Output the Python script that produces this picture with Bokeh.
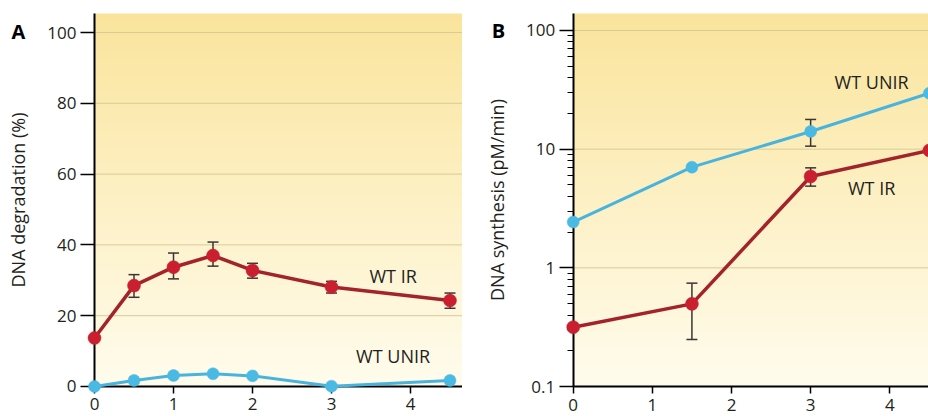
import numpy as np
from bokeh.plotting import figure
from bokeh.layouts import row
from bokeh.models import Range1d, FixedTicker, Label, CustomJSTickFormatter
from bokeh.embed import file_html
from bokeh.resources import INLINE

# ---------------- data ----------------
# Panel A: DNA degradation (%)
time_a = [0, 0.5, 1, 1.5, 2, 3, 4.5]
ir_degradation = [13.7, 28.5, 33.7, 37.0, 32.8, 28.1, 24.3]
unir_degradation = [0.0, 1.7, 3.1, 3.6, 3.0, 0.1, 1.7]
ir_err_time = [0.5, 1, 1.5, 2, 3, 4.5]
ir_err_low = [25.2, 30.4, 34.0, 30.6, 26.4, 22.1]
ir_err_high = [31.6, 37.7, 40.8, 34.8, 29.7, 26.4]
a_xticks = [0, 1, 2, 3, 4]
a_yticks = [0, 20, 40, 60, 80, 100]

# Panel B: DNA synthesis (pM/min), log scale
time_b = [0, 1.5, 3, 4.5]
unir_synthesis = [2.43, 7.05, 14.1, 29.6]
ir_synthesis = [0.316, 0.497, 5.89, 9.75]
unir_err_time = [3]
unir_err_low = [10.6]
unir_err_high = [17.8]
ir_err_time_b = [1.5, 3]
ir_err_low_b = [0.249, 4.88]
ir_err_high_b = [0.743, 6.96]
b_xticks = [0, 1, 2, 3, 4]
b_yticks = [0.1, 1, 10, 100]
b_minor = [m * 10.0 ** e for e in (-1, 0, 1) for m in range(2, 10)]

# ---------------- style ----------------
FONT = "Open Sans"
TXT = "#231f20"
RED_LINE = "#a3232b"
RED_DOT = "#c91f2e"
BLUE_LINE = "#48b4dd"
BLUE_DOT = "#4ab9e3"
ERR = "#3a3536"
GRID = "#d9cb97"
TOP = np.array([250, 228, 156], dtype=float)
BOTTOM = np.array([255, 252, 237], dtype=float)


def gradient(n=256):
    img = np.empty((n, 1), dtype=np.uint32)
    view = img.view(dtype=np.uint8).reshape((n, 1, 4))
    for i in range(n):
        t = i / (n - 1)
        c = BOTTOM + (TOP - BOTTOM) * t
        view[i, 0, 0] = int(round(c[0]))
        view[i, 0, 1] = int(round(c[1]))
        view[i, 0, 2] = int(round(c[2]))
        view[i, 0, 3] = 255
    return img


def style_axis(ax, tick_out, standoff, label_standoff=None):
    ax.axis_line_width = 2
    ax.axis_line_color = "black"
    ax.major_tick_out = tick_out
    ax.major_tick_in = 0
    ax.major_tick_line_width = 1.5
    ax.major_tick_line_color = "black"
    ax.minor_tick_in = 0
    ax.minor_tick_out = 0
    ax.major_label_standoff = standoff
    ax.major_label_text_font = FONT
    ax.major_label_text_font_size = "17px"
    ax.major_label_text_color = TXT
    ax.axis_label_text_font = FONT
    ax.axis_label_text_font_size = "18px"
    ax.axis_label_text_font_style = "normal"
    ax.axis_label_text_color = TXT
    if label_standoff is not None:
        ax.axis_label_standoff = label_standoff


def errorbars(p, xs, lo, hi):
    p.segment(x0=xs, y0=lo, x1=xs, y1=hi, line_color=ERR, line_width=1.5, level="annotation")
    p.scatter(x=xs, y=lo, marker="dash", size=11, line_color=ERR, line_width=1.5, level="annotation")
    p.scatter(x=xs, y=hi, marker="dash", size=11, line_color=ERR, line_width=1.5, level="annotation")


def series(p, xs, ys, lc, lw):
    p.line(xs, ys, line_color=lc, line_width=lw, level="annotation")


def dots(p, xs, ys, dc, size):
    p.scatter(xs, ys, size=size, fill_color=dc, line_color=dc, line_width=0.5, level="annotation")


def gridlines(p, ticks, x_end):
    n = len(ticks)
    p.segment(x0=[0] * n, y0=ticks, x1=[x_end] * n, y1=ticks,
              line_color=GRID, line_width=1, level="underlay")


lbl_kw = dict(text_font=FONT, text_font_size="18px", text_color=TXT,
              text_align="center", text_baseline="middle")
big_kw = dict(text_font=FONT, text_font_size="20px", text_font_style="bold",
              text_color="black", text_align="center", text_baseline="middle")

no_border = dict(min_border_left=0, min_border_right=0, min_border_top=0, min_border_bottom=0)

# ---------------- panel A ----------------
XA0, XA1 = -1.1899, 4.6582          # full canvas in data units
YA0, YA1 = -8.475, 109.04
XA_END, YA_END = 4.6582, 105.37     # extent of the shaded plot area
pa = figure(width=462, height=416, x_range=Range1d(XA0, XA1), y_range=Range1d(YA0, YA1),
            output_backend="svg", toolbar_location=None, title=None, **no_border)
pa.background_fill_color = "white"
pa.border_fill_color = "white"
pa.outline_line_color = None
pa.xgrid.visible = False
pa.ygrid.visible = False
pa.image_rgba(image=[gradient()], x=0, y=0, dw=XA_END, dh=YA_END, level="image")
gridlines(pa, a_yticks[1:], XA_END)

xa = pa.xaxis[0]
xa.fixed_location = 0
xa.bounds = (0, XA_END)
xa.ticker = FixedTicker(ticks=a_xticks)
style_axis(xa, 7, 5)
ya = pa.yaxis[0]
ya.fixed_location = 0
ya.bounds = (0, YA_END)
ya.ticker = FixedTicker(ticks=a_yticks)
ya.axis_label = "DNA degradation (%)"
style_axis(ya, 14, 4, 14)

series(pa, time_a, unir_degradation, BLUE_LINE, 3)
series(pa, time_a, ir_degradation, RED_LINE, 3.5)
errorbars(pa, ir_err_time, ir_err_low, ir_err_high)
dots(pa, time_a, unir_degradation, BLUE_DOT, 12)
dots(pa, time_a, ir_degradation, RED_DOT, 13)

pa.add_layout(Label(x=3.78, y=31.1, text="WT IR", **lbl_kw))
pa.add_layout(Label(x=3.78, y=8.5, text="WT UNIR", **lbl_kw))
pa.add_layout(Label(x=-0.962, y=100.4, text="A", **big_kw))

# ---------------- panel B ----------------
XB0, XB1 = -1.3986, 4.489
YB0, YB1 = 0.05588, 178.96
XB_END, YB_BASE, YB_END = 4.489, 0.1, 139.1
pb = figure(width=466, height=416, x_range=Range1d(XB0, XB1), y_range=Range1d(YB0, YB1),
            y_axis_type="log", output_backend="svg", toolbar_location=None, title=None, **no_border)
pb.background_fill_color = "white"
pb.border_fill_color = "white"
pb.outline_line_color = None
pb.xgrid.visible = False
pb.ygrid.visible = False
pb.image_rgba(image=[gradient()], x=0, y=YB_BASE, dw=XB_END, dh=YB_END - YB_BASE, level="image")
gridlines(pb, b_yticks[1:], XB_END)

xb = pb.xaxis[0]
xb.fixed_location = YB_BASE
xb.bounds = (0, XB_END)
xb.ticker = FixedTicker(ticks=b_xticks)
style_axis(xb, 7, 5)
yb = pb.yaxis[0]
yb.fixed_location = 0
yb.bounds = (YB_BASE, YB_END)
yb.ticker = FixedTicker(ticks=b_yticks, minor_ticks=b_minor)
yb.formatter = CustomJSTickFormatter(code="return tick < 1 ? tick.toFixed(1) : tick.toFixed(0);")
yb.axis_label = "DNA synthesis (pM/min)"
style_axis(yb, 14, 4, 14)
yb.minor_tick_out = 6
yb.minor_tick_line_width = 1.2
yb.minor_tick_line_color = "black"

series(pb, time_b, unir_synthesis, BLUE_LINE, 3)
series(pb, time_b, ir_synthesis, RED_LINE, 3.5)
errorbars(pb, unir_err_time, unir_err_low, unir_err_high)
errorbars(pb, ir_err_time_b, ir_err_low_b, ir_err_high_b)
dots(pb, time_b, unir_synthesis, BLUE_DOT, 12)
dots(pb, time_b, ir_synthesis, RED_DOT, 13)

pb.add_layout(Label(x=3.77, y=36.5, text="WT UNIR", **lbl_kw))
pb.add_layout(Label(x=3.77, y=4.67, text="WT IR", **lbl_kw))
pb.add_layout(Label(x=-0.944, y=100, text="B", **big_kw))

layout = row(pa, pb, spacing=0)
open("out.html", "w").write(file_html(layout, INLINE))
